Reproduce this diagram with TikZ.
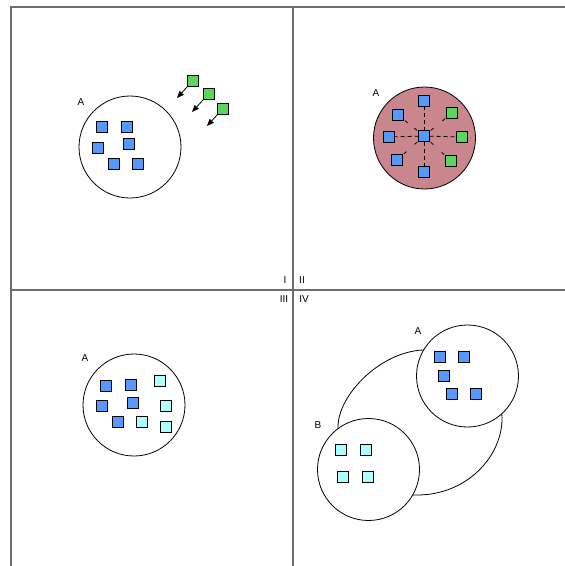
\documentclass[tikz,border=0pt]{standalone}
\usepackage{fontspec}
\setmainfont{Liberation Sans}
\usetikzlibrary{arrows.meta,shadows}
\definecolor{sqblue}{RGB}{85,153,255}
\definecolor{sqgreen}{RGB}{90,214,90}
\definecolor{sqcyan}{RGB}{170,255,255}
\definecolor{rosefill}{RGB}{201,134,140}
\definecolor{framegray}{RGB}{110,110,110}
\begin{document}
\begin{tikzpicture}[x=1pt,y=-1pt,
  sq/.style={draw=black, line width=0.9pt, minimum size=11pt, inner sep=0pt, outer sep=0pt,
    general shadow={fill=black!45, shadow xshift=0.8pt, shadow yshift=-0.8pt}},
  bsq/.style={sq, fill=sqblue},
  gsq/.style={sq, fill=sqgreen},
  csq/.style={sq, fill=sqcyan},
  bigc/.style={circle, draw=black, line width=0.8pt, minimum size=102pt, inner sep=0pt, outer sep=0pt},
  lbl/.style={font=\fontsize{10}{11}\selectfont, inner sep=0pt},
  frameline/.style={draw=framegray, line width=1.5pt},
  arr/.style={draw=black, line width=0.8pt, -{Triangle[length=7pt,width=5.5pt]}},
  straightdash/.style={draw=black, line width=0.8pt, dash pattern=on 4pt off 3pt},
  diagtick/.style={draw=black, line width=0.8pt, shorten <=1.8pt, shorten >=1.8pt, dash pattern=on 3.5pt off #1},
]
\useasboundingbox (0,0) rectangle (565,566);
\fill[white] (0,0) rectangle (565,566);
% frame
\draw[frameline] (11,566) -- (11,7) -- (565,7);
\draw[frameline] (293,7) -- (293,566);
\draw[frameline] (11,290) -- (565,290);
\node[lbl] (nI) at (285,280) {I};
\node[lbl] (nII) at (302,280) {II};
\node[lbl] (nIII) at (284,299) {III};
\node[lbl] (nIV) at (304,299) {IV};

% Quadrant I
\node[bigc] (c1) at (130,147) {};
\node[lbl] (l1) at (81,102) {A};
\node[bsq] (q1a) at (102,127) {};
\node[bsq] (q1b) at (127,127) {};
\node[bsq] (q1c) at (98,148) {};
\node[bsq] (q1d) at (129,144) {};
\node[bsq] (q1e) at (114,164) {};
\node[bsq] (q1f) at (138,164) {};
\node[gsq] (g1) at (193,81) {};
\node[gsq] (g2) at (209,94) {};
\node[gsq] (g3) at (223,109) {};
\coordinate (e1) at (177,98);
\coordinate (e2) at (192,112);
\coordinate (e3) at (207,126);
\draw[arr] (g1.south west) -- (e1);
\draw[arr] (g2.south west) -- (e2);
\draw[arr] (g3.south west) -- (e3);

% Quadrant II
\node[bigc, fill=rosefill] (c2) at (424.5,138) {};
\node[lbl] (l2) at (376,93) {A};
\node[bsq] (m) at (424,136) {};
\node[bsq] (mt) at (424,101) {};
\node[bsq] (mb) at (424,172) {};
\node[bsq] (ml) at (389,137) {};
\node[gsq] (mr) at (462,137) {};
\node[bsq] (mtl) at (398,115) {};
\node[bsq] (mbl) at (397,160) {};
\node[gsq] (mtr) at (452,113) {};
\node[gsq] (mbr) at (451,161) {};
\draw[straightdash] (m) -- (mt);
\draw[straightdash] (m) -- (mb);
\draw[straightdash] (m) -- (ml);
\draw[straightdash] (m) -- (mr);
\draw[diagtick=8.7pt] (m) -- (mtl);
\draw[diagtick=10.8pt] (m) -- (mbl);
\draw[diagtick=11.4pt] (m) -- (mtr);
\draw[diagtick=11.2pt] (m) -- (mbr);

% Quadrant III
\node[bigc] (c3) at (134,405) {};
\node[lbl] (l3) at (85,358) {A};
\node[bsq] (p1) at (106,386) {};
\node[bsq] (p2) at (131,385) {};
\node[bsq] (p3) at (102,406) {};
\node[bsq] (p4) at (133,403) {};
\node[bsq] (p5) at (118,422) {};
\node[csq] (p6) at (160,381) {};
\node[csq] (p7) at (166,406) {};
\node[csq] (p8) at (142,422) {};
\node[csq] (p9) at (166,427) {};

% Quadrant IV
\draw[line width=0.8pt] (338,427) .. controls (338,395) and (380,352) .. (423,350)
  .. controls (460,348) and (500,380) .. (502,417)
  .. controls (503,455) and (468,495) .. (417,495)
  .. controls (380,497) and (338,460) .. cycle;
\node[bigc, fill=white] (cA) at (467.5,376) {};
\node[bigc, fill=white] (cB) at (368.5,469.5) {};
\node[lbl] (lA) at (418,331) {A};
\node[lbl] (lB) at (318,425) {B};
\node[bsq] (a1) at (440,357) {};
\node[bsq] (a2) at (464,357) {};
\node[bsq] (a3) at (444,376) {};
\node[bsq] (a4) at (452,394) {};
\node[bsq] (a5) at (476,394) {};
\node[csq] (b1) at (341,450) {};
\node[csq] (b2) at (366,450) {};
\node[csq] (b3) at (343,477) {};
\node[csq] (b4) at (368,477) {};
\end{tikzpicture}
\end{document}
